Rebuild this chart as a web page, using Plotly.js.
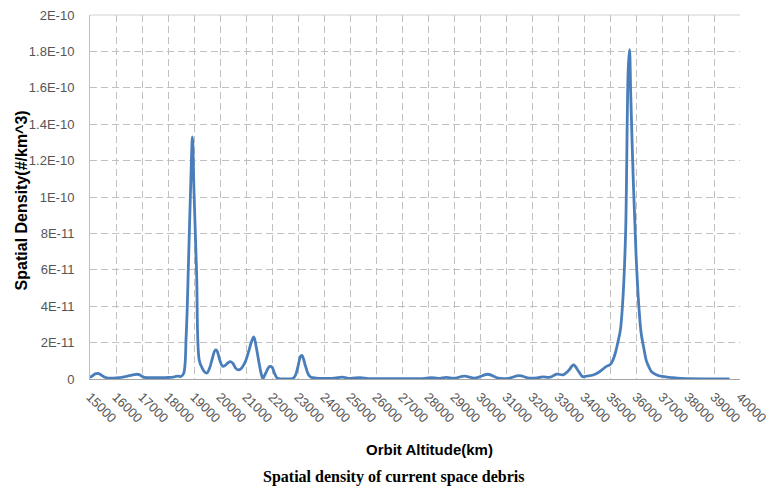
<!DOCTYPE html>
<html>
<head>
<meta charset="utf-8">
<script src="https://cdn.plot.ly/plotly-3.0.1.min.js"></script>
<style>
html,body{margin:0;padding:0;background:#fff;}
#chart{width:771px;height:491px;}
</style>
</head>
<body>
<div id="chart"></div>
<script>
// Orbit altitude (km)
const altitudes = [
  15000,15100,15200,15300,15400,15500,15600,15700,15900,16100,16300,16500,16700,16800,16900,17000,17100,17300,17600,17900,
  18200,18300,18400,18500,18600,18700,18800,18900,18940,19000,19100,19200,19300,19400,19500,19600,19700,19800,19850,19900,
  20000,20100,20200,20300,20400,20500,20600,20700,20800,20900,21000,21100,21200,21300,21400,21500,21600,21650,21700,21800,
  21900,22000,22100,22200,22300,22600,22800,22900,23000,23100,23150,23200,23300,23400,23500,23700,24000,24400,24700,25000,
  25400,25700,26200,26700,27200,27800,28100,28400,28700,29000,29400,29800,30300,30700,31100,31500,31900,32200,32400,32700,
  32950,33200,33400,33600,33800,33950,34100,34350,34600,34850,35000,35100,35200,35300,35400,35500,35600,35700,35750,35800,
  35900,36000,36100,36200,36300,36400,36500,36600,36800,37000,37300,37600,38000,38500,39000,39600
];
// Spatial density, in units of 1E-12 (#/km^3)
const densityE12 = [
  0.8,1.8,2.8,3.1,2.5,1.5,0.8,0.5,0.5,0.7,1.2,1.8,2.4,2.6,2.4,1.5,0.9,0.8,0.7,0.8,
  1.0,1.4,1.6,1.4,3,24,70,120,133,103,58,10.5,6.5,4,3.3,6,11,15.5,16,15,
  10,7,7.5,8.8,9.5,8.5,6,5,5.5,7.5,10.5,15,20,23.2,17,9,2,0.3,1.5,4.5,
  6.8,6.5,3,0.5,0.1,0.1,0.3,2,7,12.5,13,11.5,6.5,2.5,1,0.5,0.3,0.4,1.0,0.3,
  0.8,0.2,0.2,0.2,0.2,0.2,0.8,0.3,0.9,0.4,1.6,0.5,2.6,0.5,0.4,1.8,0.5,0.6,1.2,1.0,
  2.7,2.3,4.5,7.7,4,1.3,1.6,2.2,4,6.8,7.8,10,14,20,27,45,80,170,181,155,
  107,69,42,25,17,10,6.5,4,2.2,1.4,0.9,0.4,0.2,0.1,0.1,0
];
// Axis ticks
const xTickVals = [15000,16000,17000,18000,19000,20000,21000,22000,23000,24000,25000,26000,27000,
  28000,29000,30000,31000,32000,33000,34000,35000,36000,37000,38000,39000,40000];
const yTickVals = [0,20,40,60,80,100,120,140,160,180,200];
const yTickText = ["0","2E-11","4E-11","6E-11","8E-11","1E-10","1.2E-10","1.4E-10","1.6E-10","1.8E-10","2E-10"];

const tickFont = {family:"Liberation Sans, Arial, sans-serif", size:13, color:"#555555"};
const gridDash = "7px,4px";

const trace = {
  x: altitudes,
  y: densityE12,
  type: "scatter",
  mode: "lines",
  line: {color:"#4a7ebb", width:2.8, shape:"spline", smoothing:1},
  hoverinfo: "x+y"
};

const layout = {
  width: 771, height: 491,
  margin: {l:90, r:31, t:15, b:112},
  paper_bgcolor: "#ffffff",
  plot_bgcolor: "#ffffff",
  showlegend: false,
  xaxis: {
    range: [15000, 40000],
    tickmode: "array",
    tickvals: xTickVals,
    ticktext: xTickVals.map(String),
    tickangle: 45,
    tickfont: tickFont,
    ticks: "",
    ticklabelstandoff: 4,
    showgrid: true,
    gridcolor: "#c0c0c0",
    gridwidth: 1,
    griddash: gridDash,
    showline: true,
    linecolor: "#a6a6a6",
    linewidth: 1.2,
    mirror: false,
    zeroline: false,
    fixedrange: true
  },
  yaxis: {
    range: [0, 200],
    tickmode: "array",
    tickvals: yTickVals,
    ticktext: yTickText,
    tickfont: tickFont,
    ticks: "",
    ticklabelstandoff: 12,
    showgrid: true,
    gridcolor: "#c0c0c0",
    gridwidth: 1,
    griddash: gridDash,
    showline: true,
    linecolor: "#bfbfbf",
    linewidth: 1,
    zeroline: false,
    fixedrange: true
  },
  shapes: [
    {type:"line", xref:"paper", yref:"paper", x0:0, x1:1, y0:1, y1:1, line:{color:"#d0d0d0", width:1}}
  ],
  annotations: [
    {text:"<b>Spatial Density(#/km^3)</b>", xref:"paper", yref:"paper", x:-0.105, y:0.49, xanchor:"center", yanchor:"middle",
     textangle:-90, showarrow:false, font:{family:"Liberation Sans, Arial, sans-serif", size:16, color:"#000"}},
    {text:"<b>Orbit Altitude(km)</b>", xref:"paper", yref:"paper", x:0.523, y:-0.195, xanchor:"center", yanchor:"middle",
     showarrow:false, font:{family:"Liberation Sans, Arial, sans-serif", size:15, color:"#000"}},
    {text:"<b>Spatial density of current space debris</b>", xref:"paper", yref:"paper", x:0.467, y:-0.269, xanchor:"center", yanchor:"middle",
     showarrow:false, font:{family:"Liberation Serif, Times New Roman, serif", size:16, color:"#000"}}
  ]
};

Plotly.newPlot("chart", [trace], layout, {displayModeBar:false, staticPlot:true});
</script>
</body>
</html>
